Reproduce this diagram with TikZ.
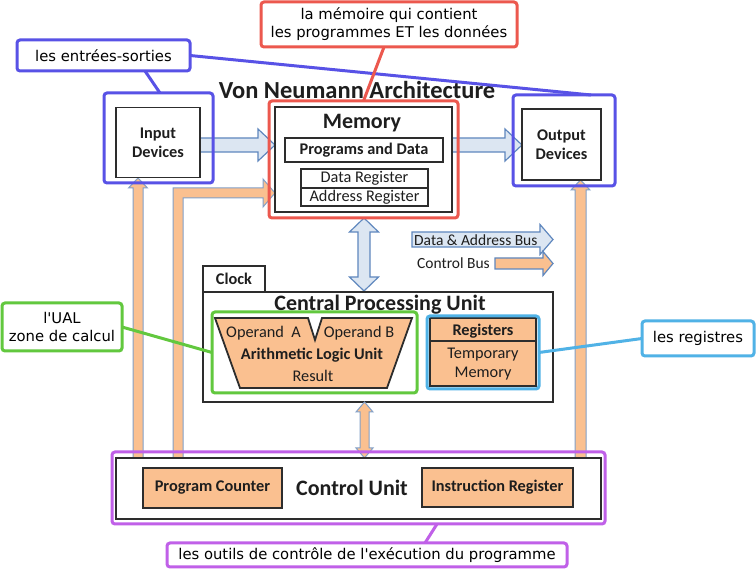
\documentclass[tikz,border=0pt]{standalone}
\usepackage{fontspec}
\setmainfont{Carlito}
\newfontfamily\annfont{DejaVu Sans}
\usetikzlibrary{calc}
\definecolor{boxc}{RGB}{45,45,45}
\definecolor{txtc}{RGB}{30,30,30}
\definecolor{annblue}{RGB}{88,82,230}
\definecolor{annred}{RGB}{236,88,78}
\definecolor{anngreen}{RGB}{98,200,62}
\definecolor{anncyan}{RGB}{80,178,230}
\definecolor{annpurple}{RGB}{192,96,232}
\definecolor{busfill}{RGB}{220,230,242}
\definecolor{busline}{RGB}{95,135,190}
\definecolor{orfill}{RGB}{250,192,144}
\definecolor{orline}{RGB}{130,160,200}
\newcommand\sbf{\bfseries\fontsize{16.3}{19}\selectfont}
\newcommand\srm{\fontsize{16.3}{19}\selectfont}
\newcommand\legf{\fontsize{15.5}{18}\selectfont}
\newcommand\bigbf{\bfseries\fontsize{22}{26}\selectfont}
\newcommand\titlef{\bfseries\fontsize{24.5}{28}\selectfont}
\newcommand\annf{\annfont\fontsize{14.8}{18}\selectfont}
\newcommand\blockR[7]{\draw[#1] ({#2},{#4-#5}) -- ({#3-#7},{#4-#5}) -- ({#3-#7},{#4-#6}) -- ({#3},{#4}) -- ({#3-#7},{#4+#6}) -- ({#3-#7},{#4+#5}) -- ({#2},{#4+#5}) -- cycle;}
\newcommand\blockU[7]{\draw[#1] ({#2-#5},{#4}) -- ({#2-#5},{#3+#7}) -- ({#2-#6},{#3+#7}) -- ({#2},{#3}) -- ({#2+#6},{#3+#7}) -- ({#2+#5},{#3+#7}) -- ({#2+#5},{#4}) -- cycle;}
\newcommand\blockUD[7]{\draw[#1] ({#2},{#3}) -- ({#2+#6},{#3+#7}) -- ({#2+#5},{#3+#7}) -- ({#2+#5},{#4-#7}) -- ({#2+#6},{#4-#7}) -- ({#2},{#4}) -- ({#2-#6},{#4-#7}) -- ({#2-#5},{#4-#7}) -- ({#2-#5},{#3+#7}) -- ({#2-#6},{#3+#7}) -- cycle;}
\begin{document}
\begin{tikzpicture}[x=1pt,y=-1pt,
  blk/.style={draw=boxc, line width=1.8pt, inner sep=0pt, outer sep=0pt, text=txtc, fill=white},
  ann/.style={draw, line width=3pt, rounded corners=3pt, fill=white, inner sep=0pt, outer sep=0pt, font=\annf, align=center, text=black},
  annframe/.style={draw, line width=3pt, rounded corners=3pt, inner sep=0pt, outer sep=0pt},
  txt/.style={inner sep=0pt, text=txtc},
  bus/.style={fill=busfill, draw=busline, line width=1.2pt, line join=miter},
  ctl/.style={fill=orfill, draw=orline, line width=1pt, line join=miter},
  ctlb/.style={fill=orfill, draw=busline, line width=1.2pt, line join=miter},
  link/.style={line width=3pt}]
\useasboundingbox (0,0) rectangle (756,569);
\fill[white] (0,0) rectangle (756,569);

\node[txt, font=\titlef] (title) at (357,90) {Von Neumann Architecture};

% data bus arrows
\blockR{bus}{200}{275}{145}{7}{16}{17}
\blockR{bus}{452}{522}{145}{7}{16}{17}

% control bus arrows
\blockU{ctl}{138}{178}{460}{5}{9.5}{10}
\blockU{ctl}{580.5}{180}{460}{5.5}{9.5}{10}
\draw[ctl] (173,460) -- (173,188) -- (263,188) -- (263,179) -- (275,193) -- (263,207) -- (263,198) -- (183,198) -- (183,460) -- cycle;

% boxes top row
\node[blk, minimum width=84, minimum height=70, align=center, font=\sbf] (inp) at (158,142.5) {Input\\Devices};
\node[blk, minimum width=79, minimum height=71, align=center, font=\sbf] (out) at (561.5,144.5) {Output\\Devices};
\node[blk, minimum width=177, minimum height=105] (mem) at (363.5,159.5) {};
\node[txt, font=\bigbf] (memt) at (362,123.5) {Memory};
\node[blk, minimum width=158, minimum height=24, font=\sbf] (prog) at (364,150) {\raisebox{-1pt}{Programs and Data}};
\node[blk, line width=1.4pt, minimum width=127, minimum height=19, font=\srm] (dreg) at (364.5,178.5) {\raisebox{-1pt}{Data Register}};
\node[blk, line width=1.4pt, minimum width=127, minimum height=18, font=\srm] (areg) at (364.5,197) {\raisebox{-1pt}{Address Register}};

% legend
\blockR{bus}{412}{553}{239.5}{7.5}{15}{13}
\node[txt, font=\legf, anchor=west] (legd) at (414,240) {Data \& Address Bus};
\blockR{ctlb}{495}{553}{263.5}{5.5}{12}{10}
\node[txt, font=\legf, anchor=east] (legc) at (490,263.5) {Control Bus};

% memory <-> cpu
\blockUD{bus}{364}{218}{291}{6}{14.5}{14}

% CPU
\node[blk, minimum width=62, minimum height=26, font=\sbf] (clock) at (234,279) {Clock};
\node[blk, minimum width=350, minimum height=110] (cpu) at (378,347) {};
\node[txt, font=\bigbf] (cput) at (380,304.5) {Central Processing Unit};
\draw[fill=orfill, draw=boxc, line width=1.8pt, line join=miter] (215,318) -- (308,318) -- (315,340) -- (322,318) -- (412,318) -- (387,388) -- (240,388) -- cycle;
\node[txt, font=\srm] (opa) at (263.5,333) {Operand\ \ A};
\node[txt, font=\srm] (opb) at (359,333) {Operand B};
\node[txt, font=\sbf] (alut) at (312,355) {Arithmetic Logic Unit};
\node[txt, font=\srm] (res) at (313,376) {Result};
\node[blk, fill=orfill, minimum width=106, minimum height=68] (regs) at (483,352) {};
\draw[boxc, line width=1.8pt] (regs.west |- 0,341) -- (regs.east |- 0,341);
\node[txt, font=\sbf] (regt) at (483,331) {Registers};
\node[txt, font=\srm, align=center] (tmpm) at (483,364) {Temporary\\Memory};

% cpu <-> control unit
\blockUD{ctl}{364.5}{402}{458}{4.5}{8.5}{10}

% control unit
\node[blk, minimum width=485, minimum height=61] (cu) at (358.5,488.5) {};
\node[txt, font=\bigbf] (cut) at (352,488) {Control Unit};
\node[blk, fill=orfill, minimum width=139, minimum height=40, font=\sbf] (pc) at (212.5,488) {\raisebox{-1.5pt}{Program Counter}};
\node[blk, fill=orfill, minimum width=151, minimum height=39, font=\sbf] (ir) at (497.5,487.5) {\raisebox{-1.5pt}{Instruction Register}};

% annotation frames
\node[annframe, draw=annblue, minimum width=109, minimum height=90] (inpO) at (158.5,138) {};
\node[annframe, draw=annblue, minimum width=102, minimum height=91] (outO) at (564,140.5) {};
\node[annframe, draw=annred, minimum width=189, minimum height=117] (memO) at (363.5,159.5) {};
\node[annframe, draw=anngreen, minimum width=205, minimum height=81] (aluO) at (314.5,352.5) {};
\node[annframe, draw=anncyan, minimum width=112, minimum height=73] (regO) at (483,352.5) {};
\node[annframe, draw=annpurple, minimum width=493, minimum height=72] (cuO) at (358.5,488) {};

% annotation labels
\node[ann, draw=annblue, minimum width=173, minimum height=31] (lio) at (103.5,55.5) {les entrées-sorties};
\node[ann, draw=annred, minimum width=256, minimum height=45] (lmem) at (389,24.5) {la mémoire qui contient\\les programmes ET les données};
\node[ann, draw=anngreen, minimum width=120, minimum height=48] (lual) at (62,327) {l\textquotesingle UAL\\zone de calcul};
\node[ann, draw=anncyan, minimum width=112, minimum height=35] (lreg) at (698,338.5) {les registres};
\node[ann, draw=annpurple, minimum width=400, minimum height=24] (lctl) at (367,555) {les outils de contrôle de l\textquotesingle exécution du programme};

% annotation links
\draw[link, annblue] ([xshift=41.5]lio.south) -- ([xshift=1.5]inpO.north);
\draw[link, annblue] (lio.east) -- ([xshift=27]outO.north);
\draw[link, annred] ([xshift=-5]lmem.south) -- (memO.north);
\draw[link, anngreen] (lual.east) -- (aluO.west);
\draw[link, anncyan] (lreg.west) -- (regO.east);
\draw[link, annpurple] ([xshift=58]lctl.north) -- ([xshift=78.5]cuO.south);
\end{tikzpicture}
\end{document}
